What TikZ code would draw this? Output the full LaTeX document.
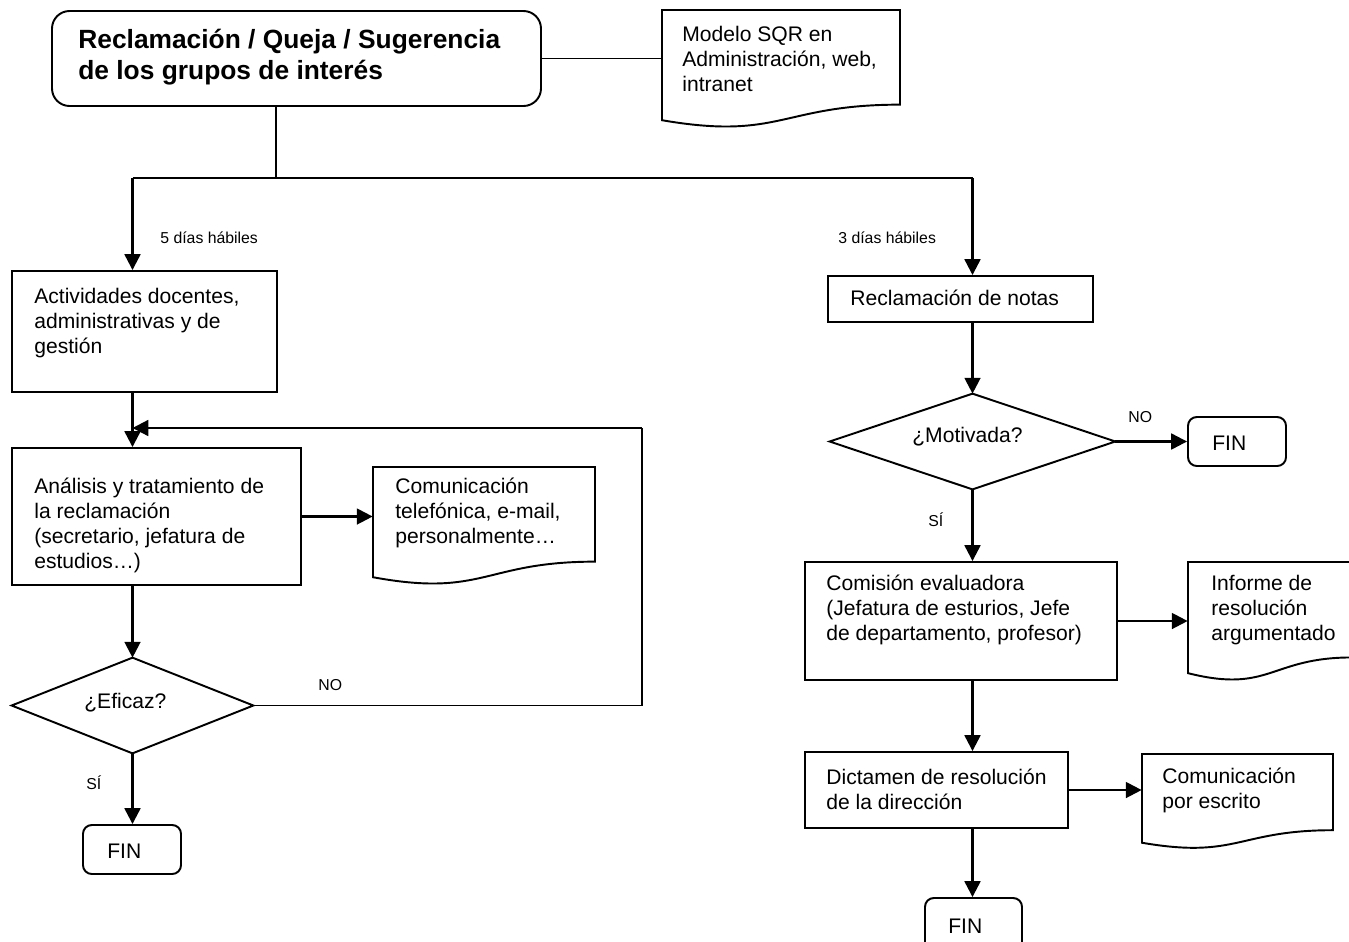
\documentclass[tikz,border=0pt]{standalone}
\usepackage{fontspec}
\setmainfont{Liberation Sans}
\usetikzlibrary{fit,arrows.meta,calc}
\newcommand\docshp[5]{%
  \node[hid, fit={(#2,#3) (#4,{#3+#5})}] (#1) {};
  \draw[docline] (#2,#3) -- (#4,#3) -- (#4,{#3+0.802*#5})
    .. controls ({(#2+#4)/2},{#3+0.802*#5}) and ({(#2+#4)/2},{#3+1.1075*#5}) ..
    (#2,{#3+0.934*#5}) -- cycle;
}
\newcommand\diamondshp[1]{%
  \draw[docline] (#1.north) -- (#1.east) -- (#1.south) -- (#1.west) -- cycle;
}
\begin{document}
\begin{tikzpicture}[x=0.02cm,y=-0.02cm,
  box/.style={draw, line width=1.1pt, inner sep=0pt},
  rbox/.style={box, rounded corners=5pt},
  hid/.style={inner sep=0pt},
  docline/.style={draw, line width=1.1pt, line join=miter},
  txt/.style={inner sep=0pt, anchor=west, align=left, font=\fontsize{12}{14.2}\selectfont},
  ttl/.style={inner sep=0pt, anchor=west, align=left, font=\fontsize{15}{17.6}\selectfont\bfseries},
  sml/.style={inner sep=0pt, anchor=west, font=\fontsize{9}{11}\selectfont},
  arr/.style={line width=1.3pt, -{Triangle[length=9pt,width=9pt]}},
  thin/.style={line width=0.6pt}]
\useasboundingbox (0,0) rectangle (1349,941);
\clip (0,0) rectangle (1349,941);

% top
\node[box, rounded corners=10pt, fit={(52,11) (541,106)}] (title) {};
\node[ttl] (titletxt) at (78,57.5) {Reclamación / Queja / Sugerencia\\de los grupos de interés};
\docshp{mod}{662}{10}{900}{118}
\node[txt] (modtxt) at (682,59) {Modelo SQR en\\Administración, web,\\intranet};
\coordinate (split) at (276,178);

% left column
\node[box, fit={(12,271) (277,392)}] (act) {};
\node[txt] (acttxt) at (34,323) {Actividades docentes,\\administrativas y de\\gestión};
\node[box, fit={(12,448) (301,585)}] (anal) {};
\node[txt] (analtxt) at (34,525.5) {Análisis y tratamiento de\\la reclamación\\(secretario, jefatura de\\estudios…)};
\docshp{tel}{373}{467}{595}{118}
\node[txt] (teltxt) at (395,513) {Comunicación\\telefónica, e-mail,\\personalmente…};
\node[hid, fit={(12,658) (253,753)}] (ef) {};
\diamondshp{ef}
\node[txt] (eftxt) at (84,703) {¿Eficaz?};
\node[rbox, fit={(83,825) (181,874)}] (fin1) {};
\node[txt] (fin1txt) at (107,851) {FIN};
\node[sml] (si1) at (86,783) {SÍ};
\node[sml] (no1) at (318,685) {NO};
\node[sml] (d5) at (160,238) {5 días hábiles};
\coordinate (fb) at (642,428);

% right column
\node[box, fit={(828,276) (1093,322)}] (notas) {};
\node[txt] (notastxt) at (850,298) {Reclamación de notas};
\node[hid, fit={(830,394) (1115,489)}] (mot) {};
\diamondshp{mot}
\node[txt] (mottxt) at (912,437) {¿Motivada?};
\node[rbox, fit={(1188,417) (1286,466)}] (fin2) {};
\node[txt] (fin2txt) at (1212,443) {FIN};
\node[sml] (no2) at (1128,417) {NO};
\node[sml] (si2) at (928,520) {SÍ};
\node[sml] (d3) at (838,238) {3 días hábiles};
\node[box, fit={(805,562) (1117,680)}] (com) {};
\node[txt] (comtxt) at (826,610) {Comisión evaluadora\\(Jefatura de esturios, Jefe\\de departamento, profesor)};
\docshp{inf}{1188}{562}{1352}{119}
\node[txt] (inftxt) at (1211,610) {Informe de\\resolución\\argumentado};
\node[box, fit={(805,752) (1068,828)}] (dic) {};
\node[txt] (dictxt) at (826,789.5) {Dictamen de resolución\\de la dirección};
\docshp{esc}{1142}{754}{1333}{95}
\node[txt] (esctxt) at (1162,790) {Comunicación\\por escrito};
\node[rbox, fit={(925,898) (1022,952)}] (fin3) {};
\node[txt] (fin3txt) at (948,926) {FIN};

% connectors
\coordinate (sl) at (ef.north |- split);
\coordinate (sr) at (mot.north |- split);
\draw[thin] (title.east) -- (title.east -| mod.west);
\draw[thin] (title.south -| split) -- (split);
\draw[thin] (sl) -- (sr);
\draw[arr] (sl) -- (sl |- act.north);
\draw[arr] (act.south -| sl) -- (anal.north -| sl);
\draw[arr] (anal.south -| sl) -- (ef.north);
\draw[arr] (ef.south) -- (ef.south |- fin1.north);
\draw[arr] (anal.east) -- (anal.east -| tel.west);
\draw[thin] (ef.east) -- (ef.east -| fb) -- (fb);
\draw[arr] (fb) -- (fb -| sl);

\draw[arr] (sr) -- (sr |- notas.north);
\draw[arr] (notas.south -| sr) -- (mot.north);
\draw[arr] (mot.east) -- (fin2.west);
\draw[arr] (mot.south) -- (mot.south |- com.north);
\draw[arr] (com.east) -- (com.east -| inf.west);
\draw[arr] (com.south -| sr) -- (dic.north -| sr);
\draw[arr] (dic.east) -- (dic.east -| esc.west);
\draw[arr] (dic.south -| sr) -- (fin3.north -| sr);
\end{tikzpicture}
\end{document}
